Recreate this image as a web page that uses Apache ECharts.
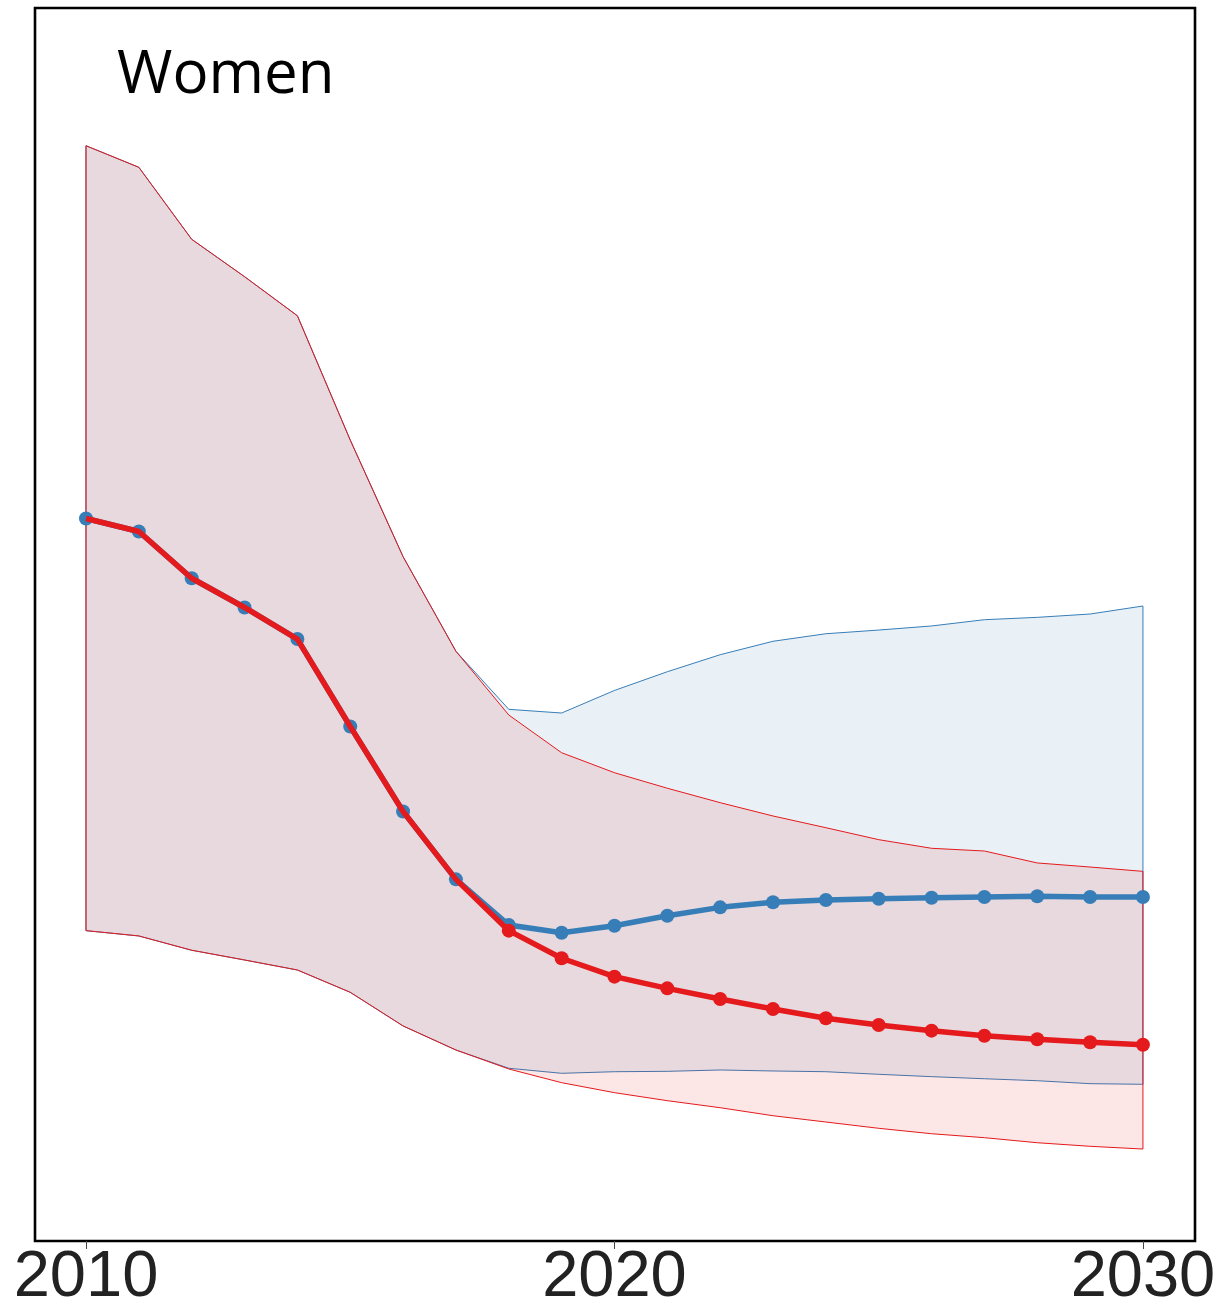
<!DOCTYPE html>
<html>
<head>
<meta charset="utf-8">
<script src="https://cdn.jsdelivr.net/npm/echarts@6/dist/echarts.min.js"></script>
<style>
html,body{margin:0;padding:0;background:#fff;}
#chart{width:1217px;height:1311px;}
</style>
</head>
<body>
<div id="chart"></div>
<script>
// ---- data (arbitrary units) ----
const years = [2010,2011,2012,2013,2014,2015,2016,2017,2018,2019,2020,2021,2022,2023,2024,2025,2026,2027,2028,2029,2030];
const tickLabels = [2010, 2020, 2030];

const redMean  = [58.60,57.54,53.75,51.38,48.82,41.73,34.83,29.33,25.17,22.93,21.44,20.49,19.63,18.82,18.06,17.52,17.06,16.65,16.36,16.12,15.92];
const redUpper = [88.83,87.08,81.24,78.21,75.04,64.96,55.50,47.83,42.66,39.60,37.98,36.72,35.55,34.47,33.52,32.55,31.85,31.63,30.66,30.33,29.98];
const redLower = [25.17,24.74,23.58,22.79,21.98,20.17,17.44,15.49,13.95,12.84,12.03,11.38,10.81,10.16,9.65,9.14,8.70,8.38,7.97,7.68,7.46];

const blueMean  = [58.60,57.54,53.75,51.38,48.82,41.73,34.83,29.33,25.63,25.00,25.57,26.38,27.06,27.47,27.66,27.76,27.84,27.90,27.96,27.90,27.90];
const blueUpper = [88.83,87.08,81.24,78.21,75.04,64.96,55.50,47.83,43.12,42.82,44.65,46.17,47.55,48.64,49.25,49.55,49.88,50.39,50.58,50.85,51.50];
const blueLower = [25.17,24.74,23.58,22.79,21.98,20.17,17.44,15.49,14.01,13.60,13.73,13.76,13.87,13.79,13.73,13.52,13.33,13.16,13.00,12.76,12.71];

const firstRedMarkerYear = 2018;
const titleText = 'Women';

const RED = '#E41A1C';
const BLUE = '#377EB8';

function bandSeries(upper, lower, color, fill, z) {
  return {
    type: 'custom',
    z: z,
    silent: true,
    data: [[years[0], upper[0]]],
    renderItem: function (params, api) {
      const pts = [];
      for (let i = 0; i < years.length; i++) pts.push(api.coord([years[i], upper[i]]));
      for (let i = years.length - 1; i >= 0; i--) pts.push(api.coord([years[i], lower[i]]));
      return {
        type: 'polygon',
        shape: { points: pts },
        style: { fill: fill, stroke: color, lineWidth: 1 }
      };
    }
  };
}

const chart = echarts.init(document.getElementById('chart'), null, { renderer: 'canvas' });
chart.setOption({
  animation: false,
  backgroundColor: '#fff',
  title: {
    text: titleText,
    left: 112,
    top: 41,
    textStyle: { fontFamily: 'Open Sans', fontSize: 60, fontWeight: 'normal', color: '#000' }
  },
  grid: {
    left: 35, right: 22, top: 8, bottom: 70,
    containLabel: false,
    outerBoundsMode: 'none',
    show: true, borderColor: '#000', borderWidth: 2.6, backgroundColor: 'transparent'
  },
  xAxis: {
    type: 'value',
    min: 2009.035,
    max: 2030.985,
    splitLine: { show: false },
    axisLine: { show: false },
    axisTick: { show: true, customValues: tickLabels, length: 8, inside: false, lineStyle: { color: '#444', width: 1 } },
    axisLabel: {
      customValues: tickLabels,
      fontFamily: 'Liberation Sans',
      fontSize: 65,
      color: '#222',
      margin: 5,
      hideOverlap: false,
      formatter: function (v) { return String(v); }
    }
  },
  yAxis: {
    type: 'value',
    min: 0,
    max: 100,
    show: false,
    splitLine: { show: false }
  },
  series: [
    bandSeries(blueUpper, blueLower, BLUE, 'rgba(55,126,184,0.11)', 1),
    bandSeries(redUpper, redLower, RED, 'rgba(228,26,28,0.11)', 2),
    {
      type: 'line',
      z: 3,
      data: years.map((y, i) => [y, blueMean[i]]),
      symbol: 'circle',
      symbolSize: 14,
      showSymbol: true,
      lineStyle: { color: BLUE, width: 5.5 },
      itemStyle: { color: BLUE },
      emphasis: { disabled: true }
    },
    {
      type: 'line',
      z: 4,
      data: years.map((y, i) => y < firstRedMarkerYear ? { value: [y, redMean[i]], symbol: 'none' } : { value: [y, redMean[i]] }),
      symbol: 'circle',
      symbolSize: 14,
      showSymbol: true,
      lineStyle: { color: RED, width: 5.5 },
      itemStyle: { color: RED },
      emphasis: { disabled: true }
    }
  ]
});
</script>
</body>
</html>
